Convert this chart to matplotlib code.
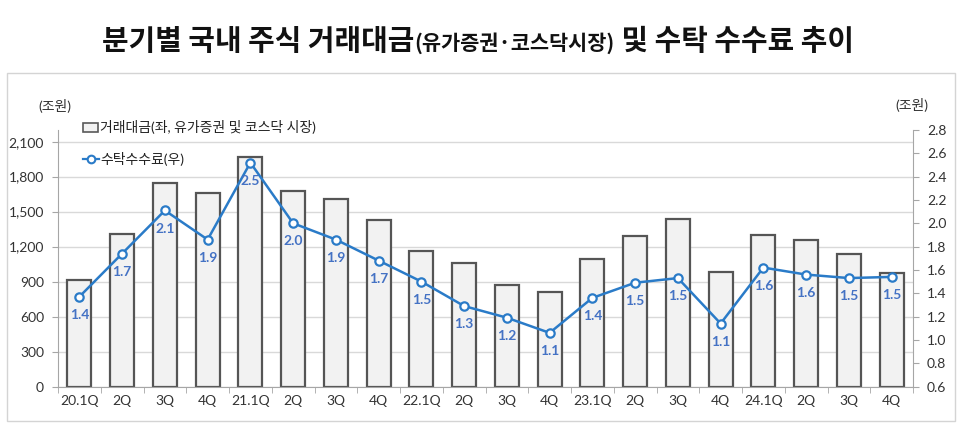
import matplotlib
matplotlib.use('Agg')
import matplotlib.pyplot as plt
from matplotlib.patches import Rectangle
from matplotlib.lines import Line2D
import numpy as np

plt.rcParams['font.family'] = ['Lato', 'Noto Sans CJK KR', 'DejaVu Sans']

# 분기별 데이터
quarters = ['20.1Q', '2Q', '3Q', '4Q', '21.1Q', '2Q', '3Q', '4Q', '22.1Q', '2Q',
            '3Q', '4Q', '23.1Q', '2Q', '3Q', '4Q', '24.1Q', '2Q', '3Q', '4Q']
trade_value = [912, 1311, 1744, 1661, 1969, 1681, 1610, 1425, 1162, 1063,
               869, 809, 1091, 1290, 1433, 986, 1302, 1254, 1134, 974]
fee = [1.37, 1.74, 2.11, 1.86, 2.52, 2.00, 1.86, 1.68, 1.50, 1.29,
       1.19, 1.06, 1.36, 1.49, 1.53, 1.14, 1.62, 1.56, 1.53, 1.54]
left_ticks = [0, 300, 600, 900, 1200, 1500, 1800, 2100]
right_ticks = [0.6, 0.8, 1.0, 1.2, 1.4, 1.6, 1.8, 2.0, 2.2, 2.4, 2.6, 2.8]

W, H = 960, 429
fig = plt.figure(figsize=(W / 100, H / 100), dpi=100)

# outer frame
fig.patches.append(Rectangle((7 / W, 1 - 421 / H), 948 / W, 348 / H,
                             transform=fig.transFigure, fill=False,
                             edgecolor='#d4d4d4', linewidth=1.0))

ax = fig.add_axes([58 / W, 1 - 386.5 / H, 855 / W, 256.5 / H])
x = np.arange(len(quarters))

ax.bar(x, trade_value, width=0.56, color='#f2f2f2', edgecolor='#555555',
       linewidth=1.6, zorder=2)
ax.set_ylim(0, 2200)
ax.set_xlim(-0.5, len(quarters) - 0.5)
ax.set_yticks(left_ticks)
ax.set_yticklabels([f'{v:,}' for v in left_ticks])
ax.yaxis.grid(True, color='#d9d9d9', linewidth=1.0, zorder=0)
ax.set_axisbelow(True)

ax.set_xticks(x)
ax.set_xticklabels(quarters)
ax.set_xticks(np.arange(-0.5, len(quarters), 1), minor=True)
ax.tick_params(axis='x', which='major', length=0, pad=6)
ax.tick_params(axis='x', which='minor', length=4, color='#a6a6a6', direction='out')
ax.tick_params(axis='y', length=4, color='#a6a6a6', pad=6)
ax.tick_params(labelsize=10, labelcolor='#333333')
for s in ['top', 'right']:
    ax.spines[s].set_visible(False)
for s in ['left', 'bottom']:
    ax.spines[s].set_color('#a6a6a6')

ax2 = ax.twinx()
ax2.plot(x, fee, color='#2a7bc8', linewidth=1.8, marker='o', markersize=6,
         markerfacecolor='white', markeredgecolor='#2a7bc8', markeredgewidth=1.6,
         zorder=5)
ax2.set_ylim(0.6, 2.8)
ax2.set_yticks(right_ticks)
ax2.set_yticklabels([f'{v:.1f}' for v in right_ticks])
ax2.tick_params(axis='y', length=4, color='#a6a6a6', labelsize=10,
                labelcolor='#333333', pad=6)
for s in ['top', 'left', 'bottom']:
    ax2.spines[s].set_visible(False)
ax2.spines['right'].set_color('#a6a6a6')

for xi, v in zip(x, fee):
    ax2.annotate(f'{v:.1f}', (xi, v), xytext=(0, -13), textcoords='offset points',
                 ha='center', va='center', fontsize=10, fontweight='bold',
                 color='#4472c4', zorder=6)

# unit labels
fig.text(55 / W, 1 - 106 / H, '(조원)', ha='center', va='center', fontsize=10,
         color='#333333')
fig.text(912 / W, 1 - 105 / H, '(조원)', ha='center', va='center', fontsize=10,
         color='#333333')

# legend (drawn manually, Excel style)
fig.patches.append(Rectangle((83 / W, 1 - 132 / H), 15 / W, 9 / H,
                             transform=fig.transFigure, facecolor='#f2f2f2',
                             edgecolor='#595959', linewidth=1.2))
fig.text(100 / W, 1 - 127 / H, '거래대금(좌, 유가증권 및 코스닥 시장)', ha='left',
         va='center', fontsize=10, color='#222222')
fig.lines.append(Line2D([83 / W, 99 / W], [1 - 159 / H, 1 - 159 / H],
                        transform=fig.transFigure, color='#2a7bc8', linewidth=1.6))
fig.lines.append(Line2D([91 / W], [1 - 159 / H], transform=fig.transFigure,
                        marker='o', markersize=5.5, markerfacecolor='white',
                        markeredgecolor='#2a7bc8', markeredgewidth=1.5))
fig.text(100 / W, 1 - 159 / H, '수탁수수료(우)', ha='left', va='center',
         fontsize=10, color='#222222')

# title in three pieces, baseline aligned and centred
title_kw = dict(fontweight='bold', color='#111111', family='Noto Sans CJK KR',
                va='baseline', ha='left')
base_y = 1 - 50 / H
t1 = fig.text(0, base_y, '분기별 국내 주식 거래대금', fontsize=20.8, **title_kw)
t2 = fig.text(0, base_y, '(유가증권·코스닥시장)', fontsize=15, **title_kw)
t3 = fig.text(0, base_y, ' 및 수탁 수수료 추이', fontsize=20.8, **title_kw)
fig.canvas.draw()
r = fig.canvas.get_renderer()
w1 = t1.get_window_extent(r).width
w2 = t2.get_window_extent(r).width
w3 = t3.get_window_extent(r).width
start = 478 - (w1 + w2 + w3) / 2
t1.set_x(start / W)
t2.set_x((start + w1) / W)
t3.set_x((start + w1 + w2) / W)

fig.savefig('out.png', dpi=100)
